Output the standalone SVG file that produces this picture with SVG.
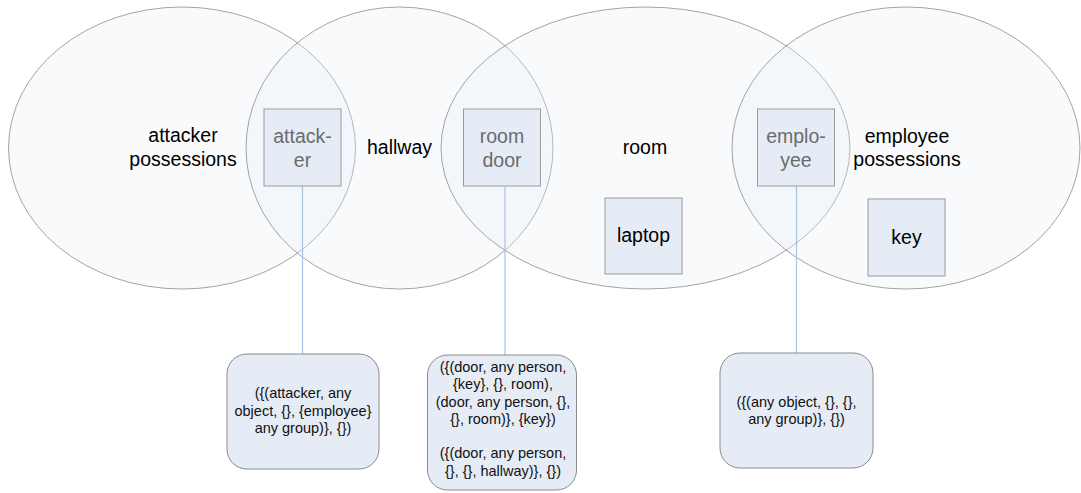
<svg xmlns="http://www.w3.org/2000/svg" width="1081" height="493" viewBox="0 0 1081 493">
<style>
.set{fill:#e6edf3;fill-opacity:0.28;stroke:#858585;stroke-width:0.75}
.box{fill:#e6ecf6;stroke:#9a9a9a;stroke-width:1}
.call{fill:#e6ecf6;stroke:#8a8a8a;stroke-width:1}
.lbl{font-family:"Liberation Sans",Arial,sans-serif;font-size:19.5px;fill:#000;text-anchor:middle}
.gl{font-family:"Liberation Sans",Arial,sans-serif;font-size:19.5px;fill:#6b6b6b;text-anchor:middle}
.ct{font-family:"Liberation Sans",Arial,sans-serif;font-size:14.5px;fill:#111;text-anchor:middle}
.con{stroke:#a8c3e6;stroke-width:1.2;fill:none}
</style>
<rect width="1081" height="493" fill="#ffffff"/>
<g id="sets">
<g id="attacker-possessions"><ellipse class="set" cx="182" cy="148" rx="173.5" ry="141"/><text class="lbl" x="183" y="142">attacker</text><text class="lbl" x="183" y="166">possessions</text></g>
<g id="hallway"><ellipse class="set" cx="399.5" cy="148" rx="153.5" ry="141"/><text class="lbl" x="399.5" y="154">hallway</text></g>
<g id="room"><ellipse class="set" cx="645.5" cy="148" rx="204.5" ry="141"/><text class="lbl" x="645" y="154">room</text></g>
<g id="employee-possessions"><ellipse class="set" cx="906" cy="148" rx="174" ry="141"/><text class="lbl" x="907" y="143">employee</text><text class="lbl" x="907" y="166">possessions</text></g>
</g>
<g id="connectors">
<line class="con" x1="302.5" y1="186" x2="302.5" y2="354"/>
<line class="con" x1="505" y1="186" x2="505" y2="355"/>
<line class="con" x1="796.5" y1="186" x2="796.5" y2="353"/>
</g>
<g id="attacker"><rect class="box" x="264" y="109" width="77" height="77"/><text class="gl" x="302.5" y="143">attack-</text><text class="gl" x="302.5" y="167">er</text></g>
<g id="room-door"><rect class="box" x="463.5" y="109" width="77" height="77"/><text class="gl" x="502" y="143">room</text><text class="gl" x="502" y="167">door</text></g>
<g id="employee"><rect class="box" x="757.5" y="109" width="77" height="77"/><text class="gl" x="796" y="143">emplo-</text><text class="gl" x="796" y="167">yee</text></g>
<g id="laptop"><rect class="box" x="605" y="198" width="77" height="76"/><text class="lbl" x="643.5" y="242">laptop</text></g>
<g id="key"><rect class="box" x="868" y="199" width="77" height="77"/><text class="lbl" x="906.5" y="244">key</text></g>
<g id="attacker-state"><rect class="call" x="227" y="354" width="152" height="115" rx="20" ry="20"/><text class="ct" x="303" y="398">({(attacker, any</text><text class="ct" x="303" y="416">object, {}, {employee}</text><text class="ct" x="303" y="433">any group)}, {})</text></g>
<g id="door-state"><rect class="call" x="427.5" y="355" width="149" height="135" rx="20" ry="20"/><text class="ct" x="503" y="372">({(door, any person,</text><text class="ct" x="503" y="389">{key}, {}, room),</text><text class="ct" x="503" y="407">(door, any person, {},</text><text class="ct" x="503" y="424">{}, room)}, {key})</text><text class="ct" x="503" y="458">({(door, any person,</text><text class="ct" x="503" y="476">{}, {}, hallway)}, {})</text></g>
<g id="employee-state"><rect class="call" x="720" y="353" width="153" height="115" rx="20" ry="20"/><text class="ct" x="796.5" y="407">({(any object, {}, {},</text><text class="ct" x="796.5" y="424">any group)}, {})</text></g>
</svg>
